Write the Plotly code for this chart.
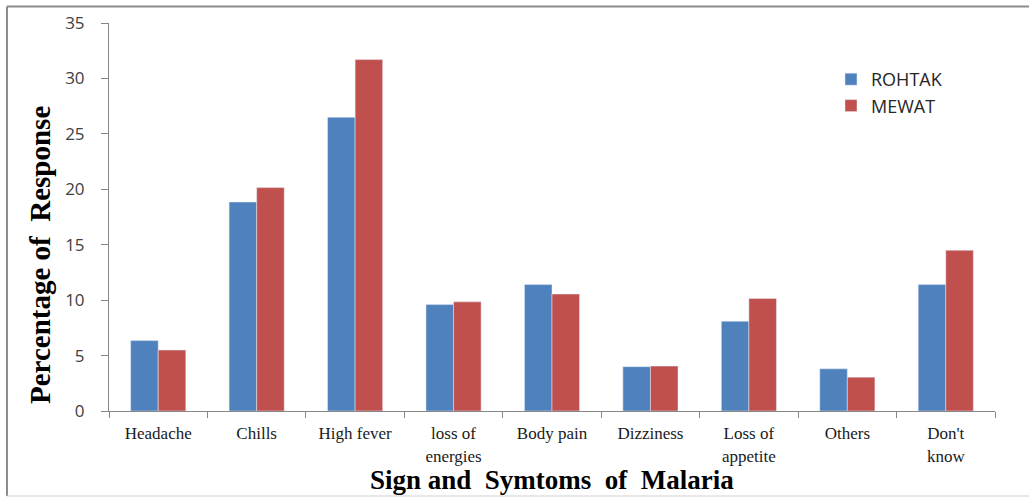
import plotly.graph_objects as go

categories = ["Headache", "Chills", "High fever", "loss of<br>energies", "Body pain",
              "Dizziness", "Loss of<br>appetite", "Others", "Don't<br>know"]
rohtak = [6.35, 18.85, 26.5, 9.6, 11.4, 4.0, 8.1, 3.8, 11.4]
mewat = [5.5, 20.15, 31.7, 9.85, 10.55, 4.05, 10.15, 3.05, 14.5]
y_ticks = [0, 5, 10, 15, 20, 25, 30, 35]

fig = go.Figure()
fig.add_trace(go.Bar(name="ROHTAK", x=categories, y=rohtak, marker_color="#4F81BD"))
fig.add_trace(go.Bar(name="MEWAT", x=categories, y=mewat, marker_color="#C0504D"))

W, H = 1029, 498
ml, mr, mt, mb = 109, 34, 23, 87
pw = W - ml - mr
ph = H - mt - mb
base = H - mb  # pixel y of zero line


def px_x(x):
    return (x - ml) / pw


def px_y(y):
    return (base - y) / ph


fig.update_layout(
    width=W, height=H,
    margin=dict(l=ml, r=mr, t=mt, b=mb, autoexpand=False),
    paper_bgcolor="white", plot_bgcolor="white",
    barmode="group", bargap=0.44, bargroupgap=0,
    showlegend=True,
    legend=dict(
        x=px_x(831), y=px_y(61), xanchor="left", yanchor="top",
        font=dict(family="Open Sans", size=18, color="#262626"),
        bgcolor="rgba(0,0,0,0)", tracegroupgap=0, itemwidth=30,
    ),
    xaxis=dict(
        type="category", showline=True, linecolor="#868686", linewidth=1,
        ticks="outside", tickson="boundaries", ticklen=6, tickcolor="#868686",
        ticklabelstandoff=7,
        tickfont=dict(family="Liberation Serif", size=17, color="#1a1a1a"),
        showgrid=False,
    ),
    yaxis=dict(
        range=[0, 35], tickvals=y_ticks, showline=True, linecolor="#868686", linewidth=1,
        ticks="outside", ticklen=7, tickcolor="#868686", ticklabelstandoff=13,
        tickfont=dict(family="Open Sans", size=17, color="#404040"),
        showgrid=False, zeroline=False,
    ),
    annotations=[
        dict(text="Percentage of  Response", textangle=-90, showarrow=False,
             xref="paper", yref="paper",
             x=px_x(40), y=px_y(255), xanchor="center", yanchor="middle",
             font=dict(family="Liberation Serif", size=29, color="black", weight="bold")),
        dict(text="Sign and  Symtoms  of  Malaria", showarrow=False,
             xref="paper", yref="paper",
             x=px_x(552), y=px_y(480), xanchor="center", yanchor="middle",
             font=dict(family="Liberation Serif", size=27, color="black", weight="bold")),
    ],
    shapes=[
        dict(type="line", xref="paper", yref="paper",
             x0=px_x(7), x1=px_x(W), y0=px_y(6.5), y1=px_y(6.5),
             line=dict(color="#8c8c8c", width=2)),
        dict(type="line", xref="paper", yref="paper",
             x0=px_x(7), x1=px_x(7), y0=px_y(6.5), y1=px_y(496),
             line=dict(color="#8c8c8c", width=2)),
        dict(type="line", xref="paper", yref="paper",
             x0=px_x(7), x1=px_x(W), y0=px_y(496), y1=px_y(496),
             line=dict(color="#d0d0d0", width=1)),
    ],
)

fig.write_html("out.html", config={"displayModeBar": False},
               post_script="document.body.style.margin='0';")
